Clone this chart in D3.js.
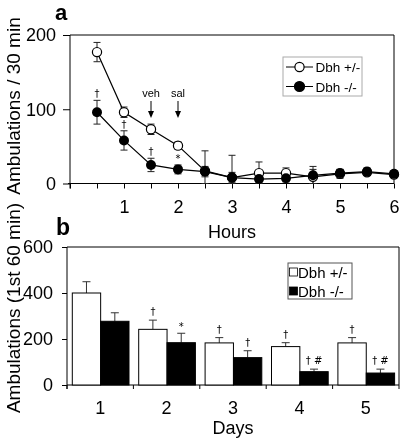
<!DOCTYPE html>
<html><head><meta charset="utf-8">
<script src="https://cdn.jsdelivr.net/npm/d3@7"></script>
<style>
body{margin:0;background:#fff;}
svg{will-change:transform;}
text{font-family:"Liberation Sans",Arial,sans-serif;fill:#000;}
text.sig{font-family:"DejaVu Sans","Liberation Sans",sans-serif;}
</style></head><body>
<svg id="c" width="404" height="443"></svg>
<script>
// ---- Panel a data ----
const hours = [0.5,1,1.5,2,2.5,3,3.5,4,4.5,5,5.5,6];
const hetA = [177,96,73,51,17,8,14,14,9,13,15,12];
const hetAErr = [13,7,7,5,27,30,15,7,10,6,4,4];
const koA = [96,58,25,19,16,8,6,7,11,14,16,13];
const koAErr = [16,13,9,6,7,7,5,5,12,5,5,4];
const koASig = ["†","†","†","*","","","","","","","",""];
const hourTicks = [0,0.5,1,1.5,2,2.5,3,3.5,4,4.5,5,5.5,6];
const yTicksA = [0,100,200];
const arrows = [{x:1.5,label:"veh"},{x:2,label:"sal"}];
// ---- Panel b data ----
const days = ["1","2","3","4","5"];
const hetB = [400,242,183,167,183];
const hetBErr = [49,40,23,17,23];
const koB = [277,184,119,58,52];
const koBErr = [37,41,30,11,17];
const hetBSig = ["","†","†","†","†"];
const koBSig = ["","*","†","† #","† #"];
const yTicksB = [0,200,400,600];
const seriesNames = ["Dbh +/-","Dbh -/-"];

const svg = d3.select("#c");
const FONT = "Liberation Sans, Arial, sans-serif";

// ================= Panel a =================
const xa = d3.scaleLinear().domain([0,6]).range([70,394]);
const ya = d3.scaleLinear().domain([0,200]).range([183.5,35]);
const ga = svg.append("g");

ga.append("path").attr("d",`M${xa(0)},${ya(200)}H${xa(6)}V${ya(0)}`).attr("fill","none").attr("stroke","#000");

const axA = ga.append("g").attr("transform",`translate(70,0)`)
  .call(d3.axisLeft(ya).tickValues(yTicksA).tickSize(7).tickPadding(7).tickSizeOuter(0));
axA.selectAll("text").style("font-size","18px").style("font-family",FONT);
axA.select(".domain").attr("d",`M0,${ya(200)}V${ya(0)+5}`);

const axAx = ga.append("g").attr("transform",`translate(0,${ya(0)})`)
  .call(d3.axisBottom(xa).tickValues(hourTicks).tickSize(5).tickPadding(12).tickSizeOuter(0)
    .tickFormat(d => (Number.isInteger(d) && d>0) ? d3.format("d")(d) : ""));
axAx.selectAll("text").style("font-size","18px").style("font-family",FONT);
axAx.select(".domain").attr("d",`M${xa(0)-2},0H${xa(6)}`);

ga.append("text").attr("x",232).attr("y",238).attr("text-anchor","middle").style("font-size","18px").text("Hours");
ga.append("text").attr("transform","translate(20,106) rotate(-90)").attr("text-anchor","middle").style("font-size","19px").text("Ambulations / 30 min");
ga.append("text").attr("x",55).attr("y",20).style("font-size","22px").style("font-weight","bold").text("a");

// error bars
function errBarsA(vals, errs, color){
  const g = ga.append("g").attr("stroke",color).attr("stroke-width",1);
  hours.forEach((h,i)=>{
    const x = xa(h), top = ya(vals[i]+errs[i]), bot = ya(Math.max(0,vals[i]-errs[i]));
    g.append("line").attr("x1",x).attr("x2",x).attr("y1",top).attr("y2",bot);
    g.append("line").attr("x1",x-3.5).attr("x2",x+3.5).attr("y1",top).attr("y2",top);
    g.append("line").attr("x1",x-3.5).attr("x2",x+3.5).attr("y1",bot).attr("y2",bot);
  });
}
errBarsA(hetA, hetAErr, "#222");
errBarsA(koA, koAErr, "#222");

const line = (vals) => d3.line().x((d,i)=>xa(hours[i])).y(d=>ya(d))(vals);
ga.append("path").attr("d",line(hetA)).attr("fill","none").attr("stroke","#000").attr("stroke-width",1.2);
ga.append("path").attr("d",line(koA)).attr("fill","none").attr("stroke","#000").attr("stroke-width",1.2);

ga.selectAll("circle.het").data(hetA).join("circle").attr("class","het")
  .attr("cx",(d,i)=>xa(hours[i])).attr("cy",d=>ya(d)).attr("r",4.6)
  .attr("fill","#fff").attr("stroke","#000").attr("stroke-width",1.2);
ga.selectAll("circle.ko").data(koA).join("circle").attr("class","ko")
  .attr("cx",(d,i)=>xa(hours[i])).attr("cy",d=>ya(d)).attr("r",5)
  .attr("fill","#000");

koASig.forEach((s,i)=>{
  if(!s) return;
  ga.append("text").attr("class","sig").attr("x",xa(hours[i])).attr("y",ya(koA[i]+koAErr[i])-3)
    .attr("text-anchor","middle").style("font-size","10px").style("fill","#000").style("opacity",0.999).text(s);
});

arrows.forEach(a=>{
  const x = xa(a.x);
  ga.append("text").attr("x",x).attr("y",97).attr("text-anchor","middle").style("font-size","11px").text(a.label);
  ga.append("line").attr("x1",x).attr("x2",x).attr("y1",101).attr("y2",112).attr("stroke","#000");
  ga.append("path").attr("d",`M${x-3},${111}L${x+3},${111}L${x},${118}Z`).attr("fill","#000");
});

// legend a
const la = ga.append("g");
la.append("rect").attr("x",283).attr("y",57).attr("width",79).attr("height",39).attr("fill","#fff").attr("stroke","#aaa");
[0,1].forEach(k=>{
  const cy = 67 + k*19.5;
  la.append("line").attr("x1",286).attr("x2",313).attr("y1",cy).attr("y2",cy).attr("stroke","#000");
  la.append("circle").attr("cx",299.5).attr("cy",cy).attr("r",k?5:4.6)
    .attr("fill",k?"#000":"#fff").attr("stroke","#000").attr("stroke-width",1.2);
  la.append("text").attr("x",315.5).attr("y",cy+5).style("font-size","13.5px").text(seriesNames[k]);
});

// ================= Panel b =================
const xb = d3.scaleBand().domain(days).range([67,399]).padding(0);
const sub = d3.scaleBand().domain(["het","ko"]).range([5.3, xb.bandwidth()-4.4]).padding(0);
const yb = d3.scaleLinear().domain([0,600]).range([385,247]);
const gb = svg.append("g");

gb.append("path").attr("d",`M${67},${yb(600)}H${399}V${yb(0)}`).attr("fill","none").attr("stroke","#000");

const axB = gb.append("g").attr("transform",`translate(67,0)`)
  .call(d3.axisLeft(yb).tickValues(yTicksB).tickSize(5).tickPadding(9).tickSizeOuter(0));
axB.selectAll("text").style("font-size","18px").style("font-family",FONT);
axB.select(".domain").attr("d",`M0,${yb(600)}V${yb(0)+4}`);

const bTicks = days.map(d=>xb(d)).concat([399]);
gb.append("line").attr("x1",67).attr("x2",399).attr("y1",yb(0)).attr("y2",yb(0)).attr("stroke","#000");
gb.selectAll("line.bt").data(bTicks).join("line").attr("class","bt")
  .attr("x1",d=>d).attr("x2",d=>d).attr("y1",yb(0)).attr("y2",yb(0)+4).attr("stroke","#000");
gb.selectAll("text.bl").data(days).join("text").attr("class","bl")
  .attr("x",d=>xb(d)+xb.bandwidth()/2).attr("y",414).attr("text-anchor","middle").style("font-size","18px").text(d=>d);

gb.append("text").attr("x",233).attr("y",434).attr("text-anchor","middle").style("font-size","18px").text("Days");
gb.append("text").attr("transform","translate(20,308) rotate(-90)").attr("text-anchor","middle").style("font-size","19px").text("Ambulations (1st 60 min)");
gb.append("text").attr("x",56).attr("y",235).style("font-size","23px").style("font-weight","bold").text("b");

function barSeries(key, vals, errs, sig, fill){
  const g = gb.append("g");
  days.forEach((d,i)=>{
    const x0 = xb(d)+sub(key), w = sub.bandwidth();
    const cx = x0 + w/2, top = yb(errs[i]+vals[i]);
    g.append("line").attr("x1",cx).attr("x2",cx).attr("y1",top).attr("y2",yb(vals[i])).attr("stroke","#333");
    g.append("line").attr("x1",cx-4).attr("x2",cx+4).attr("y1",top).attr("y2",top).attr("stroke","#333");
    g.append("rect").attr("x",x0).attr("y",yb(vals[i])).attr("width",w).attr("height",yb(0)-yb(vals[i]))
      .attr("fill",fill).attr("stroke","#000").attr("stroke-width",1);
    if(sig[i]) g.append("text").attr("class","sig").attr("x",cx).attr("y",top-(sig[i]==="*"?3:5)).attr("text-anchor","middle")
      .style("font-size","10px").style("fill","#000").style("opacity",0.999).text(sig[i]);
  });
}
barSeries("het", hetB, hetBErr, hetBSig, "#fff");
barSeries("ko", koB, koBErr, koBSig, "#000");

// legend b
const lb = gb.append("g");
lb.append("rect").attr("x",288).attr("y",263).attr("width",64).attr("height",36).attr("fill","#fff").attr("stroke","#555");
[0,1].forEach(k=>{
  const cy = 272 + k*19;
  lb.append("rect").attr("x",289.5).attr("y",cy-4).attr("width",8).attr("height",8)
    .attr("fill",k?"#000":"#fff").attr("stroke","#000").attr("stroke-width",0.8);
  lb.append("text").attr("x",298).attr("y",cy+5.5).style("font-size","15px").text(seriesNames[k]);
});
</script>
</body></html>
